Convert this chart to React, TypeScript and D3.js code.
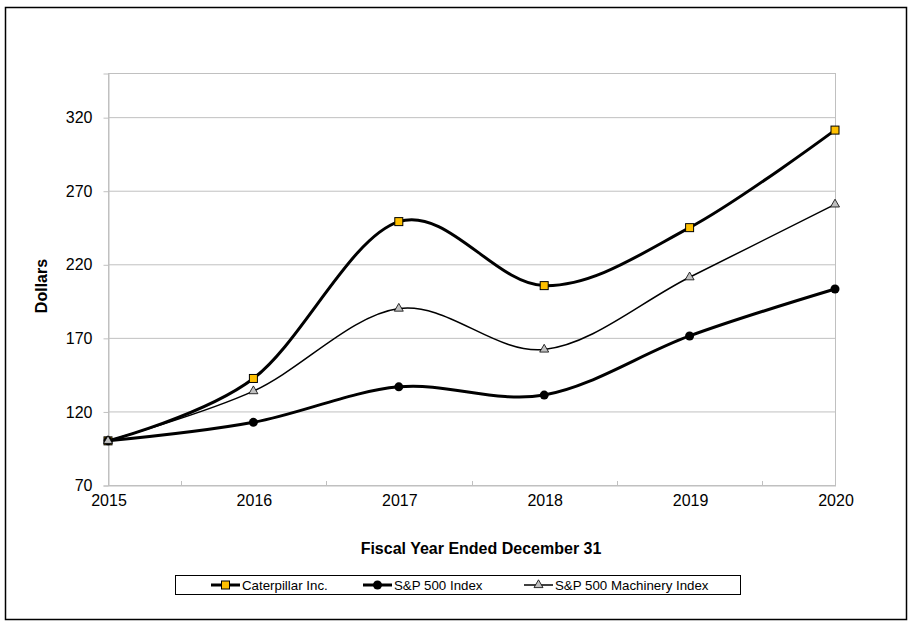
import { useEffect, useRef } from "react"
import * as d3 from "d3"

const years = ["2015", "2016", "2017", "2018", "2019", "2020"]
const caterpillar = [100, 142.4, 249, 205.5, 244.9, 311.2]
const sp500 = [100, 112.6, 136.7, 131.1, 171.3, 203.2]
const machinery = [100, 133.8, 189.9, 162.1, 211.2, 260.7]
const yTicks = [70, 120, 170, 220, 270, 320]

const W = 913
const H = 625
const FONT = "'Liberation Sans', Arial, sans-serif"

export default function App() {
  const ref = useRef<SVGSVGElement>(null)

  useEffect(() => {
    const el = ref.current
    if (!el) return
    const svg = d3.select(el)
    svg.selectAll("*").remove()

    const margin = { top: 73, right: 78, bottom: 140, left: 108 }
    const width = W - margin.left - margin.right
    const height = H - margin.top - margin.bottom

    // outer frame
    svg
      .append("rect")
      .attr("x", 5.5)
      .attr("y", 7.5)
      .attr("width", 901)
      .attr("height", 612)
      .attr("fill", "white")
      .attr("stroke", "black")
      .attr("stroke-width", 1.5)

    const g = svg.append("g").attr("transform", `translate(${margin.left},${margin.top})`)

    const x = d3
      .scalePoint<string>()
      .domain(years)
      .range([0, width])
    const y = d3.scaleLinear().domain([70, 350]).range([height, 0])

    // gridlines
    g.selectAll(".grid")
      .data(yTicks.slice(1))
      .enter()
      .append("line")
      .attr("x1", 0)
      .attr("x2", width)
      .attr("y1", (d) => y(d) + 0.5)
      .attr("y2", (d) => y(d) + 0.5)
      .attr("stroke", "#c0c0c0")
      .attr("stroke-width", 1)

    // plot border
    g.append("rect")
      .attr("x", 0.5)
      .attr("y", 0.5)
      .attr("width", width)
      .attr("height", height)
      .attr("fill", "none")
      .attr("stroke", "#c0c0c0")
      .attr("stroke-width", 1)

    // y axis
    const yAxis = g
      .append("g")
      .attr("transform", "translate(0.5,0.5)")
      .call(d3.axisLeft(y).tickValues(yTicks).tickSize(5).tickPadding(11))
    yAxis.select(".domain").attr("stroke", "#c0c0c0")
    yAxis.selectAll(".tick line").attr("stroke", "#c0c0c0")
    yAxis
      .selectAll("text")
      .attr("fill", "black")
      .style("font-family", FONT)
      .style("font-size", "16px")

    // x axis
    const xAxis = g
      .append("g")
      .attr("transform", `translate(0.5,${height + 0.5})`)
      .call(d3.axisBottom(x).tickSize(0).tickPadding(9))
    xAxis.select(".domain").attr("stroke", "#c0c0c0")
    xAxis
      .selectAll("text")
      .attr("fill", "black")
      .style("font-family", FONT)
      .style("font-size", "16px")

    // minor ticks between years
    const mids = years.slice(1).map((yr, i) => ((x(years[i]) || 0) + (x(yr) || 0)) / 2)
    g.selectAll(".mid")
      .data(mids)
      .enter()
      .append("line")
      .attr("x1", (d) => Math.round(d) + 0.5)
      .attr("x2", (d) => Math.round(d) + 0.5)
      .attr("y1", height - 4)
      .attr("y2", height)
      .attr("stroke", "#c0c0c0")

    // axis titles
    svg
      .append("text")
      .attr("x", 481)
      .attr("y", 554)
      .attr("text-anchor", "middle")
      .style("font-family", FONT)
      .style("font-size", "16px")
      .style("font-weight", "bold")
      .text("Fiscal Year Ended December 31")

    svg
      .append("text")
      .attr("transform", "translate(47,286) rotate(-90)")
      .attr("text-anchor", "middle")
      .style("font-family", FONT)
      .style("font-size", "16px")
      .style("font-weight", "bold")
      .text("Dollars")

    const line = d3
      .line<number>()
      .x((_, i) => x(years[i]) || 0)
      .y((d) => y(d))
      .curve(d3.curveCardinal.tension(0))

    const series = [
      { name: "Caterpillar Inc.", values: caterpillar, width: 3, marker: "square" },
      { name: "S&P 500 Index", values: sp500, width: 3, marker: "circle" },
      { name: "S&P 500 Machinery Index", values: machinery, width: 1.5, marker: "triangle" },
    ]

    const drawMarker = (sel: d3.Selection<SVGGElement, unknown, null, undefined>, kind: string, cx: number, cy: number) => {
      if (kind === "square") {
        sel
          .append("rect")
          .attr("x", cx - 4)
          .attr("y", cy - 4)
          .attr("width", 8)
          .attr("height", 8)
          .attr("fill", "#ffc000")
          .attr("stroke", "black")
          .attr("stroke-width", 1)
      } else if (kind === "circle") {
        sel.append("circle").attr("cx", cx).attr("cy", cy).attr("r", 4.5).attr("fill", "black")
      } else {
        const s = 9
        const tri = d3.symbol().type(d3.symbolTriangle).size((s * s * Math.sqrt(3)) / 4)
        sel
          .append("path")
          .attr("d", tri()!)
          .attr("transform", `translate(${cx},${cy})`)
          .attr("fill", "#c0c0c0")
          .attr("stroke", "black")
          .attr("stroke-width", 0.8)
      }
    }

    series.forEach((s) => {
      const sg = g.append("g")
      sg.append("path")
        .datum(s.values)
        .attr("d", line)
        .attr("fill", "none")
        .attr("stroke", "black")
        .attr("stroke-width", s.width)
      s.values.forEach((v, i) => drawMarker(sg, s.marker, x(years[i]) || 0, y(v)))
    })

    // legend
    const lg = svg.append("g")
    lg.append("rect")
      .attr("x", 175.5)
      .attr("y", 575.5)
      .attr("width", 565)
      .attr("height", 19)
      .attr("fill", "white")
      .attr("stroke", "black")
      .attr("stroke-width", 1)

    const legendX = [211, 363, 524]
    series.forEach((s, i) => {
      const lx = legendX[i]
      const ly = 585
      const item = lg.append("g")
      item
        .append("line")
        .attr("x1", lx)
        .attr("x2", lx + 29)
        .attr("y1", ly)
        .attr("y2", ly)
        .attr("stroke", "black")
        .attr("stroke-width", s.width)
      drawMarker(item, s.marker, lx + 14.5, ly)
      item
        .append("text")
        .attr("x", lx + 31)
        .attr("y", ly + 4.5)
        .style("font-family", FONT)
        .style("font-size", "13.3px")
        .text(s.name)
    })
  }, [])

  return (
    <div style={{ position: "absolute", left: 0, top: 0 }}>
      <svg ref={ref} width={W} height={H} style={{ display: "block", background: "white" }} />
    </div>
  )
}
